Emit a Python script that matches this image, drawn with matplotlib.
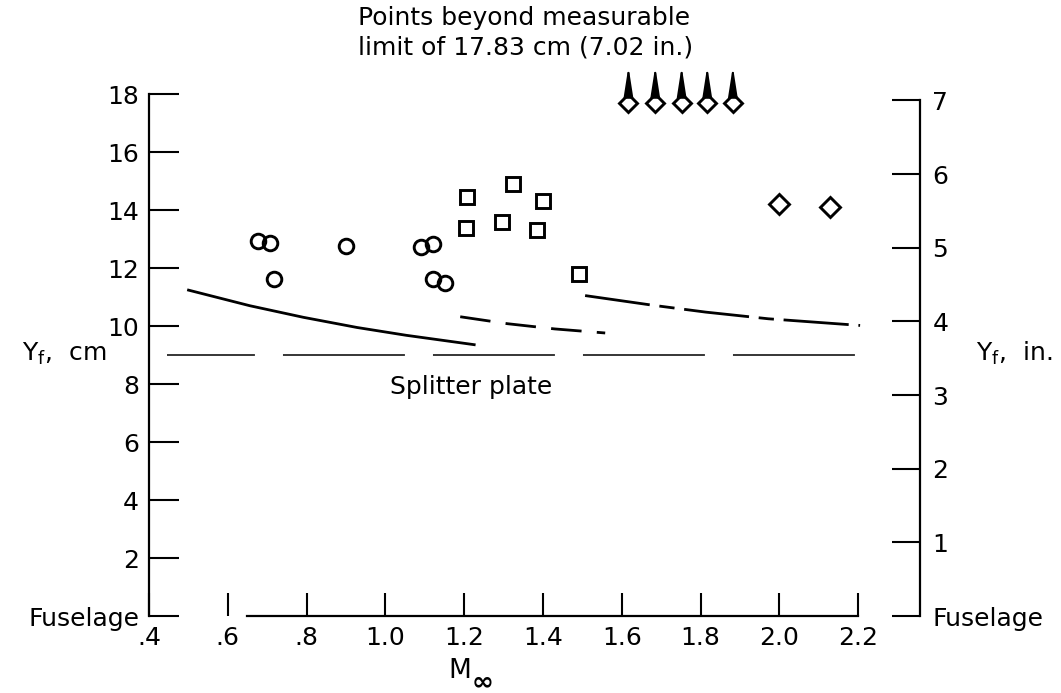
import matplotlib
matplotlib.use('Agg')
import matplotlib.pyplot as plt

plt.rcParams['font.family'] = ['DejaVu Sans']
plt.rcParams['lines.scale_dashes'] = False
plt.rcParams['mathtext.default'] = 'regular'

# ---------------- data ----------------
circle_mach = [0.677, 0.707, 0.718, 0.900, 1.090, 1.122, 1.122, 1.151]
circle_yf = [12.93, 12.85, 11.62, 12.76, 12.71, 12.82, 11.62, 11.47]

square_mach = [1.207, 1.204, 1.297, 1.325, 1.385, 1.399, 1.492]
square_yf = [14.46, 13.37, 13.60, 14.90, 13.31, 14.30, 11.79]

diamond_mach = [2.000, 2.128]
diamond_yf = [14.20, 14.11]

beyond_mach = [1.617, 1.685, 1.752, 1.817, 1.882]
beyond_yf = [17.70, 17.70, 17.70, 17.70, 17.70]
arrow_tip_yf = 18.95

curve1_mach = [0.497, 0.656, 0.792, 0.928, 1.053, 1.229]
curve1_yf = [11.25, 10.70, 10.30, 9.95, 9.68, 9.35]

curve2_mach = [1.19, 1.31, 1.43, 1.558]
curve2_yf = [10.32, 10.08, 9.90, 9.76]

curve3_mach = [1.507, 1.677, 1.813, 1.972, 2.205]
curve3_yf = [11.05, 10.72, 10.48, 10.25, 10.02]

splitter_mach = [0.446, 2.20]
splitter_yf = [9.0, 9.0]

x_ticks = [0.4, 0.6, 0.8, 1.0, 1.2, 1.4, 1.6, 1.8, 2.0, 2.2]
x_ticklabels = ['.4', '.6', '.8', '1.0', '1.2', '1.4', '1.6', '1.8', '2.0', '2.2']
cm_ticks = [0, 2, 4, 6, 8, 10, 12, 14, 16, 18]
cm_ticklabels = ['Fuselage', '2', '4', '6', '8', '10', '12', '14', '16', '18']
in_ticks = [0, 1, 2, 3, 4, 5, 6, 7]
in_ticklabels = ['Fuselage', '1', '2', '3', '4', '5', '6', '7']

# ---------------- figure ----------------
fig = plt.figure(figsize=(10.61, 6.93), dpi=100)
ax = fig.add_axes([0.1404, 0.1111, 0.7267, 0.7532])
ax.set_xlim(0.4, 2.357)
ax.set_ylim(0, 18)

for s in ['top', 'right']:
    ax.spines[s].set_visible(False)
ax.spines['left'].set_bounds(0, 18)
ax.spines['bottom'].set_bounds(0.649, 2.2)
ax.spines['left'].set_linewidth(1.6)
ax.spines['bottom'].set_linewidth(1.6)

ax.set_xticks(x_ticks)
ax.set_xticklabels(x_ticklabels)
ax.set_yticks(cm_ticks)
ax.set_yticklabels(cm_ticklabels)
ax.tick_params(axis='x', direction='in', length=16.5, width=1.5, pad=7, labelsize=18)
ax.tick_params(axis='y', direction='in', length=21.5, width=1.5, pad=7, labelsize=18)
ax.yaxis.get_major_ticks()[0].tick1line.set_visible(False)

ax2 = ax.twinx()
ax2.set_ylim(0, 18 / 2.54)
for s in ['top', 'left', 'bottom']:
    ax2.spines[s].set_visible(False)
ax2.spines['right'].set_bounds(0, 7)
ax2.spines['right'].set_linewidth(1.6)
ax2.set_yticks(in_ticks)
ax2.set_yticklabels(in_ticklabels)
ax2.tick_params(axis='y', direction='in', length=20, width=1.5, pad=9, labelsize=18)

# curves
ax.plot(curve1_mach, curve1_yf, color='black', lw=2.0, solid_capstyle='butt')
ax.plot(curve2_mach, curve2_yf, color='black', lw=2.0, dashes=(22, 11))
ax.plot(curve3_mach, curve3_yf, color='black', lw=2.0, dashes=(47, 7, 11, 7))
ax.plot(splitter_mach, splitter_yf, color='black', lw=1.1, ls=(24.5, (87.8, 20.2)))
ax.text(1.217, 7.9, 'Splitter plate', ha='center', va='center', fontsize=18)

# symbols
ax.plot(circle_mach, circle_yf, 'o', ls='none', mfc='none', mec='black', ms=10.5, mew=2.1)
ax.plot(square_mach, square_yf, 's', ls='none', mfc='none', mec='black', ms=9.8, mew=2.1)
ax.plot(diamond_mach, diamond_yf, 'D', ls='none', mfc='none', mec='black', ms=10.0, mew=2.1)
ax.plot(beyond_mach, beyond_yf, 'D', ls='none', mfc='none', mec='black', ms=9.5, mew=2.1,
        clip_on=False)
for m, y in zip(beyond_mach, beyond_yf):
    ax.annotate('', xy=(m, arrow_tip_yf), xytext=(m, y + 0.34),
                arrowprops=dict(arrowstyle='-|>,head_length=0.9,head_width=0.14',
                                lw=1.4, color='black', shrinkA=0, shrinkB=0,
                                mutation_scale=20),
                annotation_clip=False)

# texts
fig.text(0.3374, 0.974, 'Points beyond measurable', fontsize=18, ha='left', va='center')
fig.text(0.3374, 0.931, 'limit of 17.83 cm (7.02 in.)', fontsize=18, ha='left', va='center')
fig.text(0.4445, 0.032, 'M', fontsize=19, ha='right', va='center')
fig.text(0.4445, 0.016, '\u221e', fontsize=19, fontweight='bold', ha='left', va='center')
fig.text(22 / 1061, 0.490, 'Y$_f$,  cm', fontsize=18, ha='left', va='center')
fig.text(976 / 1061, 0.490, 'Y$_f$,  in.', fontsize=18, ha='left', va='center')

fig.savefig('out.png', dpi=100)
